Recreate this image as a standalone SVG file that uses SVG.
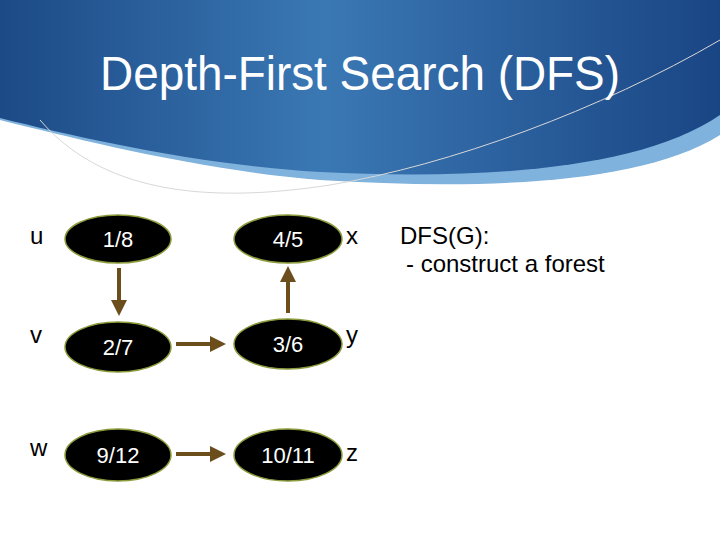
<svg xmlns="http://www.w3.org/2000/svg" width="720" height="540" viewBox="0 0 720 540">
<defs>
<linearGradient id="bg" x1="0" y1="0" x2="1" y2="0">
<stop offset="0" stop-color="#1c4a86"/><stop offset="0.45" stop-color="#3a78b4"/><stop offset="1" stop-color="#1a4584"/>
</linearGradient>
<marker id="ah" markerWidth="4" markerHeight="4" refX="3" refY="2" orient="auto" markerUnits="strokeWidth"><path d="M0,0 L4,2 L0,4 z" fill="#6b4e1c"/></marker>
<style>
.n{fill:#000;stroke:#8c9c3c;stroke-width:1.5}
.t{font-family:"Liberation Sans",Arial,sans-serif;font-size:22px;fill:#fff;text-anchor:middle}
.l{font-family:"Liberation Sans",Arial,sans-serif;font-size:24px;fill:#000}
.e{stroke:#6b4e1c;stroke-width:4;fill:none;marker-end:url(#ah)}
</style>
</defs>
<rect width="720" height="540" fill="#fff"/>
<g id="header">
<path d="M0,0 H720 V135 C640,185 480,190 320,180 C200,170 80,140 0,120 Z" fill="#7fb2dc"/>
<path d="M0,0 H720 V115 C640,170 480,180 320,172 C200,165 80,138 0,118 Z" fill="url(#bg)"/>
<path d="M40,120 C100,190 200,205 330,185 C450,165 600,110 720,40" fill="none" stroke="#d8d8d8" stroke-width="1"/>
<text x="100" y="90" font-family="'Liberation Sans',Arial,sans-serif" font-size="48" fill="#fff" textLength="520" lengthAdjust="spacingAndGlyphs">Depth-First Search (DFS)</text>
</g>
<g id="connectors">
<line class="e" x1="119" y1="268" x2="119" y2="312"/>
<line class="e" x1="176" y1="344" x2="222" y2="344"/>
<line class="e" x1="288" y1="313" x2="288" y2="270"/>
<line class="e" x1="176" y1="454" x2="222" y2="454"/>
</g>
<g id="n18"><ellipse class="n" cx="118" cy="239" rx="53" ry="24"/><text class="t" x="118" y="247">1/8</text></g>
<g id="n45"><ellipse class="n" cx="288" cy="239" rx="54" ry="24"/><text class="t" x="288" y="247">4/5</text></g>
<g id="n27"><ellipse class="n" cx="118" cy="347" rx="53" ry="25"/><text class="t" x="118" y="355">2/7</text></g>
<g id="n36"><ellipse class="n" cx="288" cy="344" rx="54" ry="25"/><text class="t" x="288" y="352">3/6</text></g>
<g id="n912"><ellipse class="n" cx="118" cy="455" rx="53" ry="26"/><text class="t" x="118" y="463">9/12</text></g>
<g id="n1011"><ellipse class="n" cx="288" cy="455" rx="54" ry="26"/><text class="t" x="288" y="463">10/11</text></g>
<g id="labels">
<text class="l" x="30" y="244">u</text>
<text class="l" x="30" y="343">v</text>
<text class="l" x="30" y="456">w</text>
<text class="l" x="346" y="244">x</text>
<text class="l" x="346" y="343">y</text>
<text class="l" x="346" y="461">z</text>
<text class="l" x="400" y="244">DFS(G):</text>
<text class="l" x="406" y="272">- construct a forest</text>
</g>
</svg>
